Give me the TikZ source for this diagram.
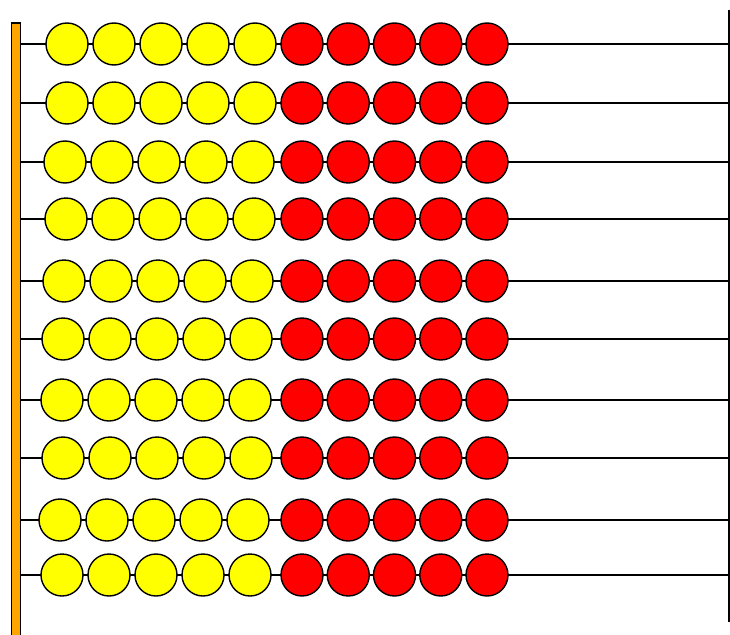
\documentclass[tikz,border=0pt]{standalone}
\usepackage{tikz}
\usetikzlibrary{positioning}

\definecolor{beadyellow}{HTML}{FFFF00}
\definecolor{beadred}{HTML}{FF0000}
\definecolor{baramber}{HTML}{FFA500}

\begin{document}
\begin{tikzpicture}[
    x=1pt, y=-1pt,
    bead/.style={circle, draw=black, line width=1.4pt, minimum size=42pt,
                 inner sep=0pt, fill=#1},
    wire/.style={line width=2.8pt, black},
    rail/.style={draw=black, line width=1.8pt, fill=baramber,
                 minimum width=9pt, minimum height=620pt, inner sep=0pt}
]
\useasboundingbox (0,0) rectangle (730,634);

% frame
\node[rail, anchor=north] (bar) at (16,22) {};
\coordinate (ptop) at (729,10);
\coordinate (pbot) at (729,622);
\draw[line width=2pt] (ptop) -- (pbot);

% rows: wire, five yellow and five red beads
\foreach \r/\wy/\yx in {1/44/67, 2/103/67, 3/162/65, 4/219/66, 5/281/64,
                        6/339/63, 7/400/62, 8/458/63, 9/520/60, 10/575/62}{
    \coordinate (wl\r) at (bar.east |- 0,\wy);
    \coordinate (wr\r) at (729,\wy);
    \draw[wire] (wl\r) -- (wr\r);
    \foreach \i in {0,...,4}{
        \node[bead=beadyellow] (y\r-\i) at ({\yx+47*\i},\wy) {};
        \node[bead=beadred]    (r\r-\i) at ({302+46.25*\i},\wy) {};
    }
}
\end{tikzpicture}
\end{document}
